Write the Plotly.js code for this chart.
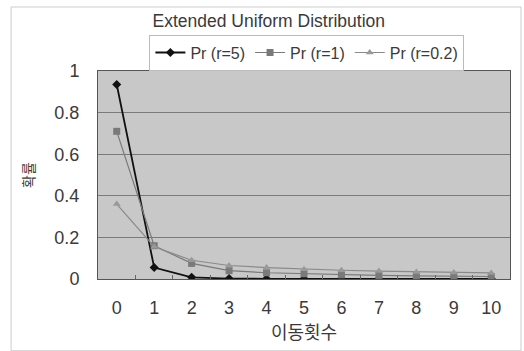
<!DOCTYPE html>
<html>
<head>
<meta charset="utf-8">
<script src="https://cdn.plot.ly/plotly-3.0.1.min.js"></script>
<style>
  html, body { margin: 0; padding: 0; background: #fff; }
  #chart { width: 524px; height: 351px; }
</style>
</head>
<body>
<div id="chart"></div>
<script>
// Number of moves (categories on the x axis)
const moves = ['0', '1', '2', '3', '4', '5', '6', '7', '8', '9', '10'];

// Probability for each value of r
const prR5  = [0.935, 0.055, 0.008, 0.002, 0.001, 0.001, 0.001, 0.001, 0.001, 0.001, 0.001];
const prR1  = [0.71, 0.16, 0.075, 0.04, 0.03, 0.025, 0.02, 0.017, 0.015, 0.013, 0.012];
const prR02 = [0.36, 0.155, 0.09, 0.065, 0.055, 0.047, 0.042, 0.038, 0.034, 0.031, 0.029];

const seriesNames = ['Pr (r=5)', 'Pr (r=1)', 'Pr (r=0.2)'];
const yTicks = [0, 0.2, 0.4, 0.6, 0.8, 1];
const yTickText = ['0', '0.2', '0.4', '0.6', '0.8', '1'];

const FONT = 'Liberation Sans, Arial, sans-serif';
const KFONT = 'Noto Sans CJK KR, sans-serif';
const TXT = '#3a3a3a';

const traces = [
  {
    x: moves, y: prR5, name: seriesNames[0], type: 'scatter', mode: 'lines+markers',
    line: { color: '#111111', width: 1.8 },
    marker: { symbol: 'diamond', size: 7, color: '#111111' }
  },
  {
    x: moves, y: prR1, name: seriesNames[1], type: 'scatter', mode: 'lines+markers',
    line: { color: '#7a7a7a', width: 1.2 },
    marker: { symbol: 'square', size: 7, color: '#7a7a7a' }
  },
  {
    x: moves, y: prR02, name: seriesNames[2], type: 'scatter', mode: 'lines+markers',
    line: { color: '#8a8a8a', width: 1.2 },
    marker: { symbol: 'triangle-up', size: 7, color: '#999999' }
  }
];

const layout = {
  width: 524, height: 351,
  margin: { l: 98, r: 14, t: 71, b: 72 },
  paper_bgcolor: '#ffffff',
  plot_bgcolor: '#c8c8c8',
  font: { family: FONT, size: 17, color: TXT },
  title: {
    text: 'Extended Uniform Distribution',
    font: { family: FONT, size: 17.5, color: TXT },
    x: 0.513, xanchor: 'center', xref: 'container',
    y: 0.94, yanchor: 'middle', yref: 'container'
  },
  showlegend: true,
  legend: {
    orientation: 'h',
    x: 0.507, xanchor: 'center',
    y: 1.175, yanchor: 'top',
    bgcolor: '#ffffff',
    bordercolor: '#bbbbbb', borderwidth: 1,
    font: { family: FONT, size: 16, color: TXT },
    itemwidth: 30,
    tracegroupgap: 0
  },
  xaxis: {
    type: 'category',
    range: [-0.5, 10.5],
    tickson: 'boundaries',
    ticks: 'inside', ticklen: 4, tickcolor: '#666666',
    showgrid: false,
    showline: true, linecolor: '#555555', linewidth: 1, mirror: true,
    ticklabelstandoff: 12,
    tickfont: { family: FONT, size: 18, color: TXT },
    title: { text: '이동횟수', font: { family: KFONT, size: 18, color: TXT }, standoff: 2 }
  },
  yaxis: {
    range: [0, 1],
    tickvals: yTicks, ticktext: yTickText,
    showgrid: true, gridcolor: '#7a7a7a', gridwidth: 1,
    zeroline: false,
    showline: true, linecolor: '#555555', linewidth: 1, mirror: true,
    ticks: '',
    ticklabelstandoff: 14,
    tickfont: { family: FONT, size: 18, color: TXT },
    title: { text: '확률', font: { family: KFONT, size: 14, color: TXT }, standoff: 16 }
  },
  shapes: [
    // light outer frame round the whole chart
    {
      type: 'rect', xref: 'paper', yref: 'paper',
      x0: -0.211, x1: 1.0267, y0: -0.345, y1: 1.3077,
      line: { color: '#cccccc', width: 1 }, layer: 'below'
    }
  ]
};

Plotly.newPlot('chart', traces, layout, { displayModeBar: false, staticPlot: true });
</script>
</body>
</html>
